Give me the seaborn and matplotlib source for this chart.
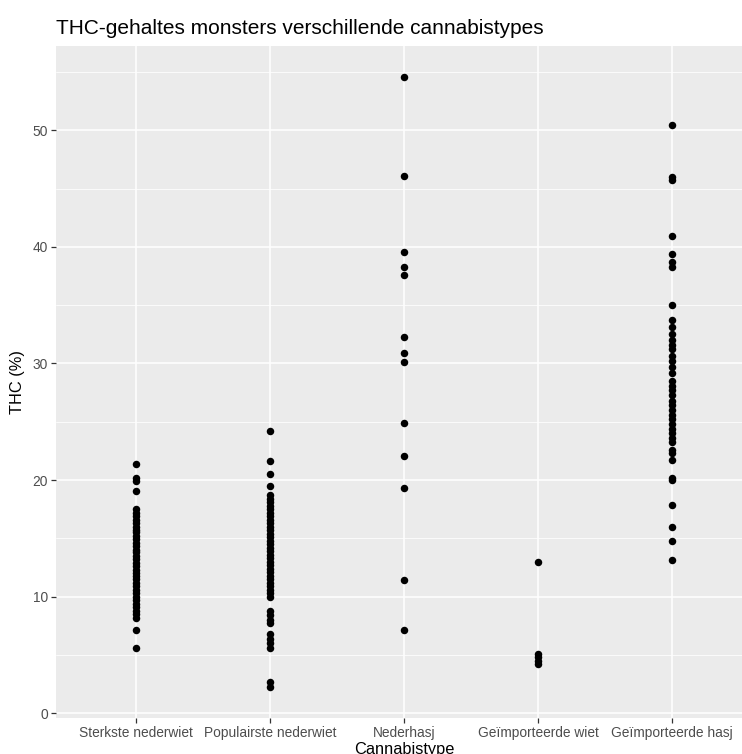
import matplotlib
matplotlib.use("Agg")
import matplotlib.pyplot as plt
from matplotlib.ticker import MultipleLocator
import pandas as pd
import seaborn as sns

# THC content (%) per sample, grouped by cannabis type
categories = ["Sterkste nederwiet", "Populairste nederwiet", "Nederhasj",
              "Geïmporteerde wiet", "Geïmporteerde hasj"]

sterkste_nederwiet = [21.4, 20.2, 19.9, 19.1, 17.5, 17.2, 16.9, 16.6, 16.3, 16.0,
                      15.7, 15.5, 15.2, 14.9, 14.6, 14.3, 14.0, 13.8, 13.5, 13.2,
                      12.9, 12.6, 12.3, 12.0, 11.8, 11.5, 11.2, 10.9, 10.6, 10.3,
                      10.0, 9.7, 9.4, 9.1, 8.8, 8.5, 8.2, 7.1, 5.6]
populairste_nederwiet = [24.2, 21.6, 20.5, 19.5, 18.7, 18.4, 18.1, 17.8, 17.5, 17.2,
                         16.9, 16.6, 16.3, 16.0, 15.7, 15.4, 15.1, 14.8, 14.5, 14.2,
                         13.9, 13.6, 13.3, 13.0, 12.7, 12.4, 12.1, 11.8, 11.5, 11.2,
                         10.9, 10.6, 10.3, 10.0, 8.8, 8.4, 8.0, 7.7, 6.8, 6.4,
                         6.0, 5.6, 2.7, 2.2]
nederhasj = [54.6, 46.1, 39.6, 38.3, 37.6, 32.3, 30.9, 30.1, 24.9, 22.1, 19.3, 11.4, 7.1]
geimporteerde_wiet = [13.0, 5.1, 4.8, 4.5, 4.2]
geimporteerde_hasj = [50.5, 46.0, 45.7, 40.9, 39.4, 38.7, 38.3, 35.0, 33.7, 33.1,
                      32.5, 32.0, 31.6, 31.2, 30.6, 30.2, 29.7, 29.2, 28.5, 28.1,
                      27.7, 27.3, 26.8, 26.4, 26.0, 25.6, 25.2, 24.8, 24.4, 24.0,
                      23.6, 23.3, 22.6, 22.3, 21.7, 20.2, 20.0, 17.9, 16.0, 14.8, 13.1]

series = [sterkste_nederwiet, populairste_nederwiet, nederhasj,
          geimporteerde_wiet, geimporteerde_hasj]
df = pd.DataFrame({
    "Cannabistype": [c for c, vals in zip(categories, series) for _ in vals],
    "THC": [v for vals in series for v in vals],
})

sns.set_theme(style="darkgrid")
plt.rcParams["font.family"] = ["Liberation Sans", "DejaVu Sans"]

fig = plt.figure(figsize=(7.42, 7.54), dpi=100)
ax = fig.add_axes([0.0755, 0.0477, 0.939, 0.891])
ax.set_facecolor("#EBEBEB")

sns.stripplot(data=df, x="Cannabistype", y="THC", order=categories,
              jitter=False, color="black", size=5.4, linewidth=0, ax=ax)

# ggplot-like expansion of the scales
vals = df["THC"]
rng = vals.max() - vals.min()
ax.set_ylim(vals.min() - 0.05 * rng, vals.max() + 0.05 * rng)
ax.set_xlim(-0.6, len(categories) - 1 + 0.6)

ax.yaxis.set_major_locator(MultipleLocator(10))
ax.yaxis.set_minor_locator(MultipleLocator(5))
ax.grid(which="major", color="white", linewidth=1.1)
ax.grid(which="minor", axis="y", color="white", linewidth=0.55)
ax.set_axisbelow(True)
for s in ax.spines.values():
    s.set_visible(False)

ax.tick_params(axis="both", which="major", bottom=True, left=True,
               length=3.5, width=0.9, color="#333333",
               labelsize=9.9, labelcolor="#4D4D4D", pad=2.5)
ax.tick_params(axis="both", which="minor", length=0)

ax.set_xlabel("Cannabistype", fontsize=11.8, color="black", labelpad=1)
ax.set_ylabel("THC (%)", fontsize=11.8, color="black", labelpad=5)
ax.set_title("THC-gehaltes monsters verschillende cannabistypes", loc="left",
             fontsize=15, color="black", pad=9)

fig.savefig("out.png", dpi=100)
